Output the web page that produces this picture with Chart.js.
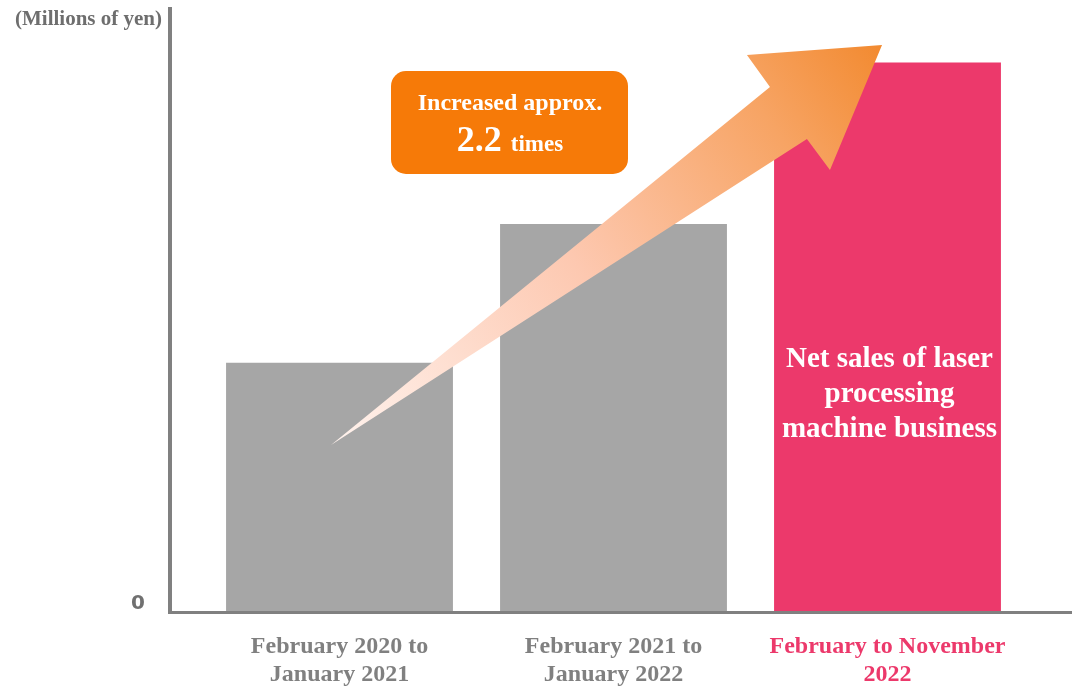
<!DOCTYPE html>
<html>
<head>
<meta charset="utf-8">
<script src="https://cdn.jsdelivr.net/npm/chart.js@4"></script>
<style>
  html, body { margin: 0; padding: 0; background: #fff; }
  #wrap { position: relative; width: 1072px; height: 691px; }
</style>
</head>
<body>
<div id="wrap"><canvas id="chart" width="1072" height="691"></canvas></div>
<script>
// --- data ---
const periods = [
  ['February 2020 to', 'January 2021'],
  ['February 2021 to', 'January 2022'],
  ['February to November', '2022']
];
const sales = [100, 156, 221];           // relative, no value ticks in the original
const barColors = ['#a6a6a6', '#a6a6a6', '#ec396b'];
const labelColors = ['#808080', '#808080', '#ec396b'];
const yMax = 243;
const unitLabel = '(Millions of yen)';
const zeroLabel = '0';
const growthText = ['Increased approx.', '2.2', 'times'];
const barNote = ['Net sales of laser', 'processing', 'machine business'];
// arrow outline in data space: [category index, value]
const arrowPts = [
  [-0.031, 66.9], [1.571, 211.2], [1.487, 224.1],
  [1.980, 228.1], [1.790, 177.7], [1.706, 190.2]
];

const serif = '"Liberation Serif", "Times New Roman", serif';

const decor = {
  id: 'decor',
  afterDatasetsDraw(chart) {
    const { ctx, scales: { x, y } } = chart;
    ctx.save();

    // growth arrow
    const pts = arrowPts.map(p => [x.getPixelForValue(p[0]), y.getPixelForValue(p[1])]);
    const g = ctx.createLinearGradient(pts[0][0], pts[0][1], pts[3][0], pts[3][1]);
    g.addColorStop(0, '#fff3ee');
    g.addColorStop(0.45, '#fdc8b0');
    g.addColorStop(0.8, '#f7a464');
    g.addColorStop(1, '#f28a30');
    ctx.beginPath();
    pts.forEach((p, i) => i ? ctx.lineTo(p[0], p[1]) : ctx.moveTo(p[0], p[1]));
    ctx.closePath();
    ctx.fillStyle = g;
    ctx.fill();

    // orange callout box
    ctx.fillStyle = '#f67a08';
    ctx.beginPath();
    ctx.roundRect(391, 71, 237, 103, 15);
    ctx.fill();
    ctx.fillStyle = '#ffffff';
    ctx.textBaseline = 'alphabetic';
    ctx.textAlign = 'center';
    ctx.font = 'bold 24px ' + serif;
    ctx.fillText(growthText[0], 510, 110);
    ctx.font = 'bold 36px ' + serif;
    const w1 = ctx.measureText(growthText[1] + ' ').width;
    ctx.font = 'bold 23px ' + serif;
    const w2 = ctx.measureText(growthText[2]).width;
    const sx = 510 - (w1 + w2) / 2;
    ctx.textAlign = 'left';
    ctx.font = 'bold 36px ' + serif;
    ctx.fillText(growthText[1], sx, 151);
    ctx.font = 'bold 23px ' + serif;
    ctx.fillText(growthText[2], sx + w1, 151);

    // note inside the last bar
    ctx.textAlign = 'center';
    ctx.font = 'bold 29px ' + serif;
    const cx = x.getPixelForValue(2);
    barNote.forEach((t, i) => ctx.fillText(t, cx + 2, 367 + i * 35));

    // axes
    ctx.fillStyle = '#808080';
    ctx.fillRect(168, 7, 4, 607);
    ctx.fillRect(168, 611, 904, 3);

    // unit and zero labels
    ctx.fillStyle = '#6e6e6e';
    ctx.textAlign = 'right';
    ctx.font = 'bold 21px ' + serif;
    ctx.fillText(unitLabel, 162, 25);
    ctx.fillStyle = '#707070';
    ctx.textAlign = 'center';
    ctx.font = 'bold 20px "DejaVu Sans", sans-serif';
    ctx.fillText(zeroLabel, 138, y.getPixelForValue(0) - 2);

    ctx.restore();
  }
};

new Chart(document.getElementById('chart'), {
  type: 'bar',
  data: {
    labels: periods,
    datasets: [{
      data: sales,
      backgroundColor: barColors,
      borderWidth: 0,
      barPercentage: 0.828,
      categoryPercentage: 1
    }]
  },
  options: {
    responsive: false,
    animation: false,
    layout: { padding: { left: 202.5, right: 47.5, top: 8, bottom: 0 } },
    plugins: { legend: { display: false }, tooltip: { enabled: false } },
    scales: {
      x: {
        grid: { display: false },
        border: { display: false },
        ticks: {
          color: c => labelColors[c.index],
          font: { family: serif, size: 24, weight: 'bold', lineHeight: 1.2 },
          padding: 13,
          maxRotation: 0,
          autoSkip: false
        },
        afterFit: s => { s.height = 80; }
      },
      y: { display: false, min: 0, max: yMax }
    }
  },
  plugins: [decor]
});
</script>
</body>
</html>
